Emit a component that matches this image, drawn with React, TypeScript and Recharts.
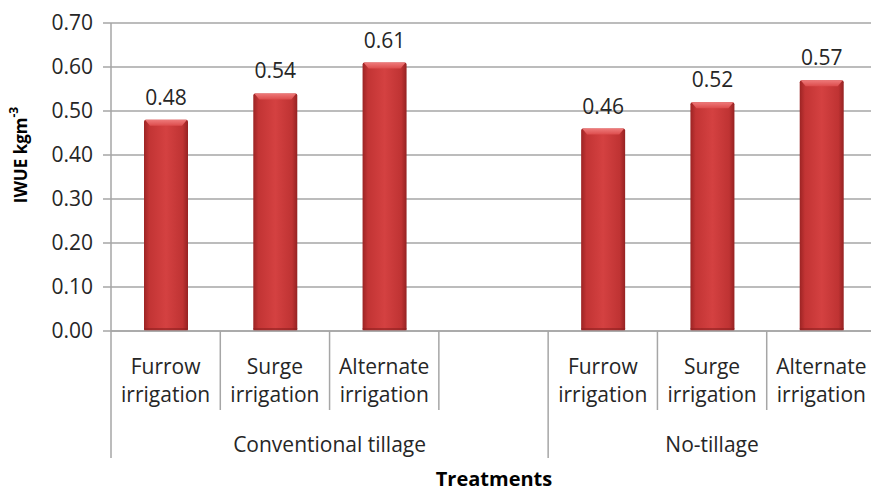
import { BarChart, Bar, XAxis, YAxis, CartesianGrid, LabelList } from 'recharts';

const treatments = [
  'Furrow irrigation',
  'Surge irrigation',
  'Alternate irrigation',
  '',
  'Furrow irrigation',
  'Surge irrigation',
  'Alternate irrigation',
];
const iwue = [0.48, 0.54, 0.61, null, 0.46, 0.52, 0.57];
const groupLabels = ['Conventional tillage', 'No-tillage'];
const groupSpans = [4, 3];
const yTicks = [0, 0.1, 0.2, 0.3, 0.4, 0.5, 0.6, 0.7];

const data = treatments.map((name, i) => ({ name, value: iwue[i] }));

const CHART_W = 876;
const CHART_H = 493;
const Y_AXIS_W = 111;
const X_AXIS_H = 162;
const SLOT_W = (CHART_W - Y_AXIS_W) / treatments.length;
const FONT = '"Open Sans", sans-serif';
const TEXT = '#262626';
const LINE = '#a6a6a6';

const groupStarts = groupSpans.map((_, g) => groupSpans.slice(0, g).reduce((a, b) => a + b, 0));

function CategoryTick(props: any) {
  const { x, y, index, payload } = props;
  const left = x - SLOT_W / 2;
  const g = groupStarts.indexOf(index);
  const isStart = g >= 0;
  const words = String(payload.value || '').split(' ').filter(Boolean);
  const isLast = index === treatments.length - 1;
  return (
    <g>
      <line x1={left} y1={y} x2={left} y2={y + (isStart ? 127 : 79)} stroke={LINE} strokeWidth={1.5} />
      {isLast && (
        <line x1={x + SLOT_W / 2} y1={y} x2={x + SLOT_W / 2} y2={y + 127} stroke={LINE} strokeWidth={1.5} />
      )}
      {words.map((w, k) => (
        <text key={k} x={x} y={y + 43 + k * 28} textAnchor="middle" fontSize={21} fill={TEXT} fontFamily={FONT}>
          {w}
        </text>
      ))}
      {isStart && (
        <text
          x={left + (groupSpans[g] * SLOT_W) / 2}
          y={y + 121}
          textAnchor="middle"
          fontSize={21}
          fill={TEXT}
          fontFamily={FONT}
        >
          {groupLabels[g]}
        </text>
      )}
    </g>
  );
}

function BevelBar(props: any) {
  const { x, y, width, height } = props;
  if (!height || height <= 0) return null;
  const b = 6;
  return (
    <g>
      <rect x={x} y={y} width={width} height={height} rx={2} fill="url(#barBody)" />
      <polygon
        points={`${x + 1},${y} ${x + width - 1},${y} ${x + width - b},${y + b} ${x + b},${y + b}`}
        fill="url(#barTop)"
      />
      <rect x={x} y={y + height - 3} width={width} height={3} fill="#8e2020" opacity={0.6} />
    </g>
  );
}

const renderYTitle = () => (
  <text
    x={22}
    y={155}
    transform="rotate(-90 22 155)"
    textAnchor="middle"
    dominantBaseline="middle"
    fontSize={17}
    fontWeight="bold"
    fill="#000"
    fontFamily={FONT}
  >
    IWUE kgm
    <tspan dy={-7} fontSize={12}>
      -3
    </tspan>
  </text>
);

const renderXTitle = () => (
  <text x={494} y={486} textAnchor="middle" fontSize={20} fontWeight="bold" fill="#000" fontFamily={FONT}>
    Treatments
  </text>
);

export default function App() {
  return (
    <div
      style={{
        position: 'absolute',
        left: 0,
        top: 0,
        width: 871,
        height: 493,
        overflow: 'hidden',
        background: '#fff',
      }}
    >
      <BarChart width={CHART_W} height={CHART_H} data={data} margin={{ top: 23, right: 0, left: 0, bottom: 0 }}>
        <defs>
          <linearGradient id="barBody" x1="0" y1="0" x2="1" y2="0">
            <stop offset="0%" stopColor="#9c2424" />
            <stop offset="12%" stopColor="#c23434" />
            <stop offset="50%" stopColor="#d44141" />
            <stop offset="88%" stopColor="#bf3333" />
            <stop offset="100%" stopColor="#952222" />
          </linearGradient>
          <linearGradient id="barTop" x1="0" y1="0" x2="0" y2="1">
            <stop offset="0%" stopColor="#ee7a7a" />
            <stop offset="100%" stopColor="#dc4c4c" />
          </linearGradient>
        </defs>
        <CartesianGrid vertical={false} stroke={LINE} strokeWidth={1.5} />
        <XAxis
          dataKey="name"
          height={X_AXIS_H}
          interval={0}
          tickLine={false}
          tickSize={0}
          tickMargin={0}
          axisLine={{ stroke: LINE, strokeWidth: 1.5 }}
          tick={<CategoryTick />}
          label={{ content: renderXTitle }}
        />
        <YAxis
          width={Y_AXIS_W}
          domain={[0, 0.7]}
          ticks={yTicks}
          interval={0}
          tickFormatter={(v: number) => v.toFixed(2)}
          tickSize={8}
          tickMargin={10}
          tickLine={{ stroke: LINE, strokeWidth: 1.5 }}
          axisLine={{ stroke: LINE, strokeWidth: 1.5 }}
          tick={{ fontSize: 21, fill: TEXT, fontFamily: FONT }}
          label={{ content: renderYTitle }}
        />
        <Bar dataKey="value" barSize={44} shape={<BevelBar />} isAnimationActive={false}>
          <LabelList
            dataKey="value"
            position="top"
            offset={15}
            formatter={(v: any) => (v == null ? '' : Number(v).toFixed(2))}
            style={{ fontSize: 21, fill: TEXT, fontFamily: FONT }}
          />
        </Bar>
      </BarChart>
    </div>
  );
}
